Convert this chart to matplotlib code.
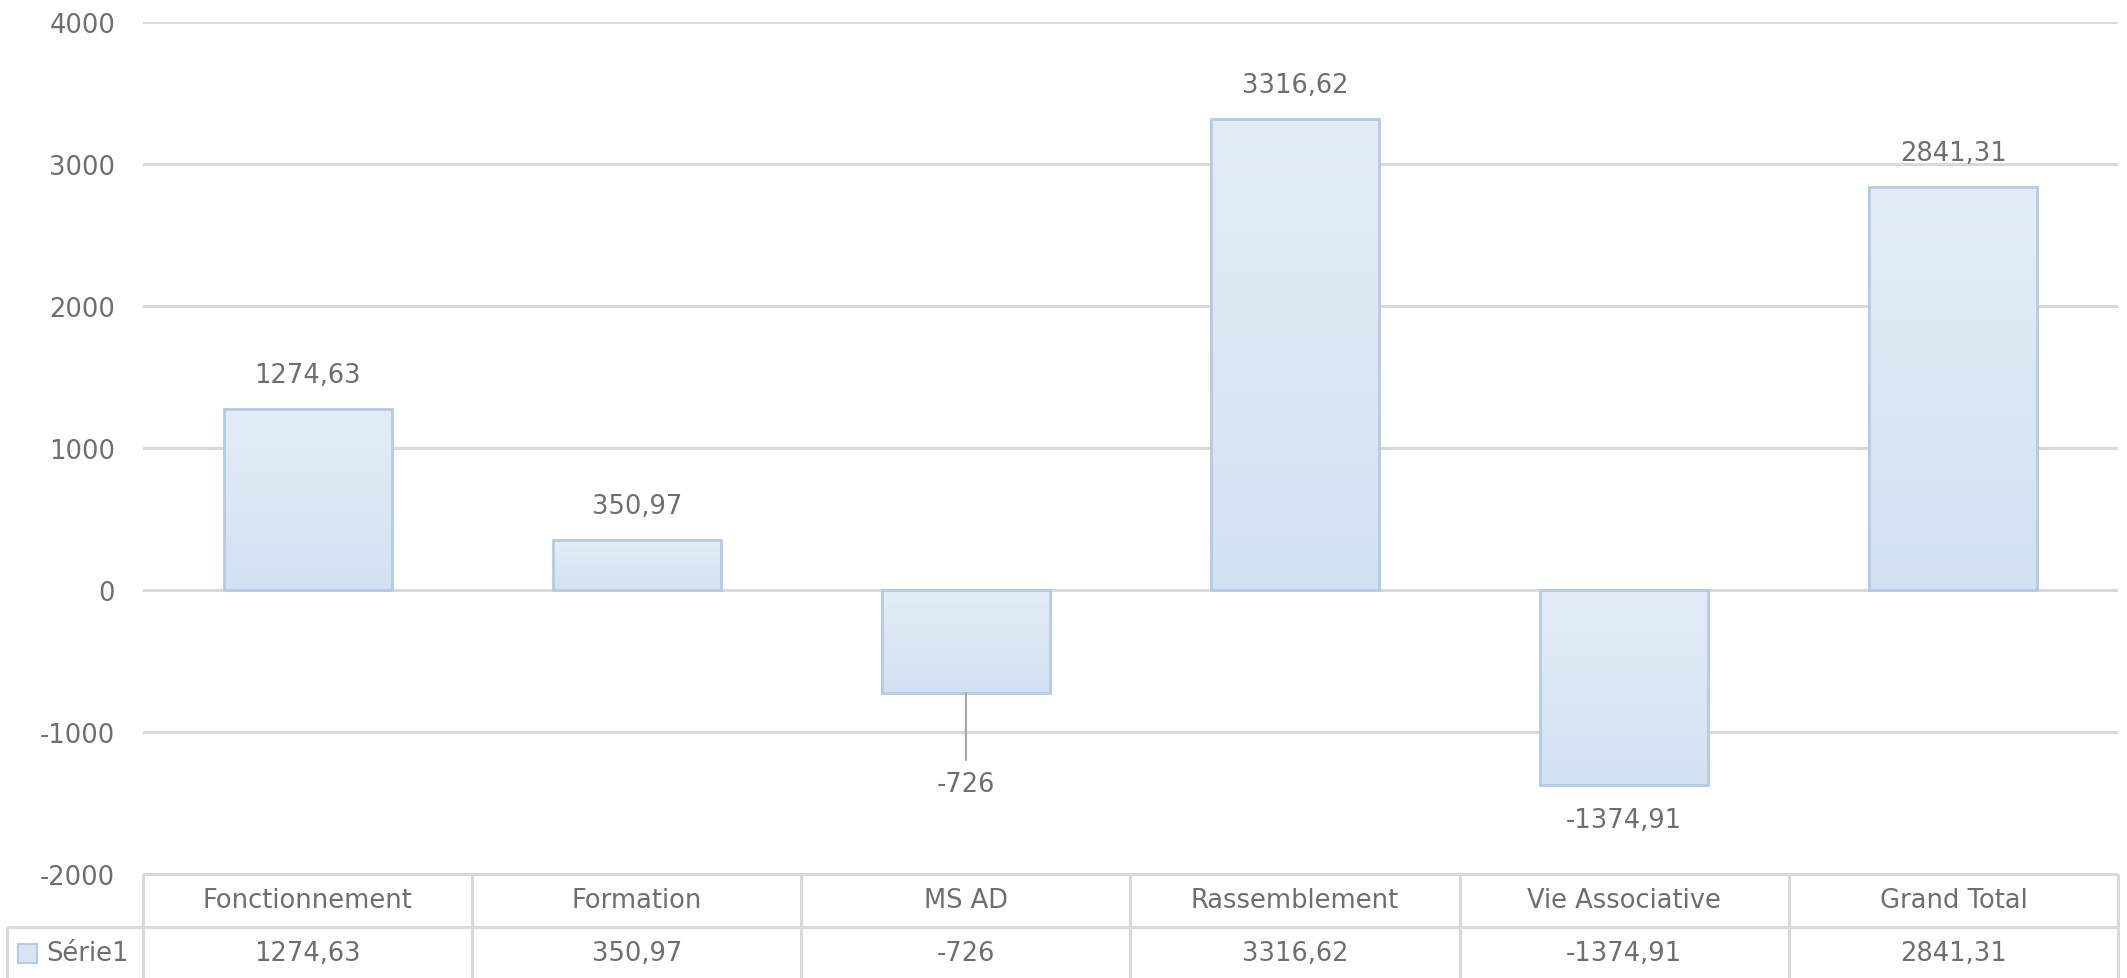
import numpy as np
import matplotlib
matplotlib.use("Agg")
import matplotlib.pyplot as plt
from matplotlib.colors import LinearSegmentedColormap
from matplotlib.patches import Rectangle

categories = ["Fonctionnement", "Formation", "MS AD", "Rassemblement", "Vie Associative", "Grand Total"]
values = [1274.63, 350.97, -726, 3316.62, -1374.91, 2841.31]
series_name = "Série1"
yticks = [-2000, -1000, 0, 1000, 2000, 3000, 4000]

plt.rcParams['font.family'] = ['DejaVu Sans']
txt = "#6e6e6e"
grid_c = "#d9d9d9"
edge_c = "#b3cbe5"
grad = LinearSegmentedColormap.from_list("g", ["#d2e1f1", "#e4edf7"])
fs = 18.5

def fmt(v):
    s = ("%.2f" % v).rstrip("0").rstrip(".")
    return s.replace(".", ",")

W, H = 2127, 979
fig = plt.figure(figsize=(W / 100, H / 100), dpi=100)
ax = fig.add_axes([143 / W, (H - 875) / H, (2118 - 143) / W, (875 - 23) / H])

x = np.arange(len(categories))
bars = ax.bar(x, values, width=0.51, facecolor="none", edgecolor=edge_c, linewidth=2.0, zorder=3)

# vertical gradient fill inside each bar
g = np.linspace(0, 1, 256).reshape(-1, 1)
for b in bars:
    x0, y0 = b.get_x(), b.get_y()
    w, h = b.get_width(), b.get_height()
    ylo, yhi = min(y0, y0 + h), max(y0, y0 + h)
    im = ax.imshow(g, cmap=grad, aspect="auto", origin="lower",
                   extent=[x0, x0 + w, ylo, yhi], zorder=2)
    im.set_clip_path(b)

ax.set_xlim(-0.5, len(categories) - 0.5)
ax.set_ylim(-2000, 4000)
ax.set_yticks(yticks)
ax.set_yticklabels([str(t) for t in yticks])
ax.tick_params(axis="y", length=0, pad=20, labelsize=fs, labelcolor=txt)
ax.set_xticks([])
for s in ax.spines.values():
    s.set_visible(False)
ax.grid(axis="y", color=grid_c, linewidth=2.2, zorder=0)
ax.set_axisbelow(True)

# data labels
for i, v in enumerate(values):
    if categories[i] == "MS AD":
        ax.annotate(fmt(v), xy=(x[i], v), xytext=(0, -78), textcoords="offset pixels",
                    ha="center", va="top", fontsize=fs, color=txt,
                    arrowprops=dict(arrowstyle="-", color="#a6a6a6", lw=1.5,
                                    shrinkA=6, shrinkB=0))
    elif v >= 0:
        ax.annotate(fmt(v), xy=(x[i], v), xytext=(0, 27), textcoords="offset pixels",
                    ha="center", va="baseline", fontsize=fs, color=txt)
    else:
        ax.annotate(fmt(v), xy=(x[i], v), xytext=(0, -22), textcoords="offset pixels",
                    ha="center", va="top", fontsize=fs, color=txt)

# data table under the plot
tr = ax.get_xaxis_transform()
row_h = 53 / 852
lab_w = (143 - 7) / ((2118 - 143) / len(categories))
left = -0.5
right = len(categories) - 0.5
lk = dict(color=grid_c, lw=2.2, transform=tr, clip_on=False, solid_capstyle="butt")
ax.plot([left, right], [0, 0], **lk)
ax.plot([left - lab_w, right], [-row_h, -row_h], **lk)
ax.plot([left - lab_w, right], [-2 * row_h, -2 * row_h], **lk)
for k in range(len(categories) + 1):
    ax.plot([left + k, left + k], [0, -2.2 * row_h], **lk)
ax.plot([left - lab_w, left - lab_w], [-row_h, -2.2 * row_h], **lk)

for i, c in enumerate(categories):
    ax.text(x[i], -0.5 * row_h, c, transform=tr, ha="center", va="center",
            fontsize=fs, color=txt, clip_on=False)
    ax.text(x[i], -1.5 * row_h, fmt(values[i]), transform=tr, ha="center", va="center",
            fontsize=fs, color=txt, clip_on=False)

# legend key in the row label cell
sq_w = 19 / 329.2
sq_h = 19 / 852
sq_x = left - lab_w + 11 / 329.2
ax.add_patch(Rectangle((sq_x, -1.5 * row_h - sq_h / 2), sq_w, sq_h, transform=tr,
                       facecolor="#d8e5f3", edgecolor=edge_c, lw=1.5, clip_on=False))
ax.text(sq_x + sq_w + 9 / 329.2, -1.5 * row_h, series_name, transform=tr,
        ha="left", va="center", fontsize=fs, color=txt, clip_on=False)

fig.savefig("out.png", dpi=100)
